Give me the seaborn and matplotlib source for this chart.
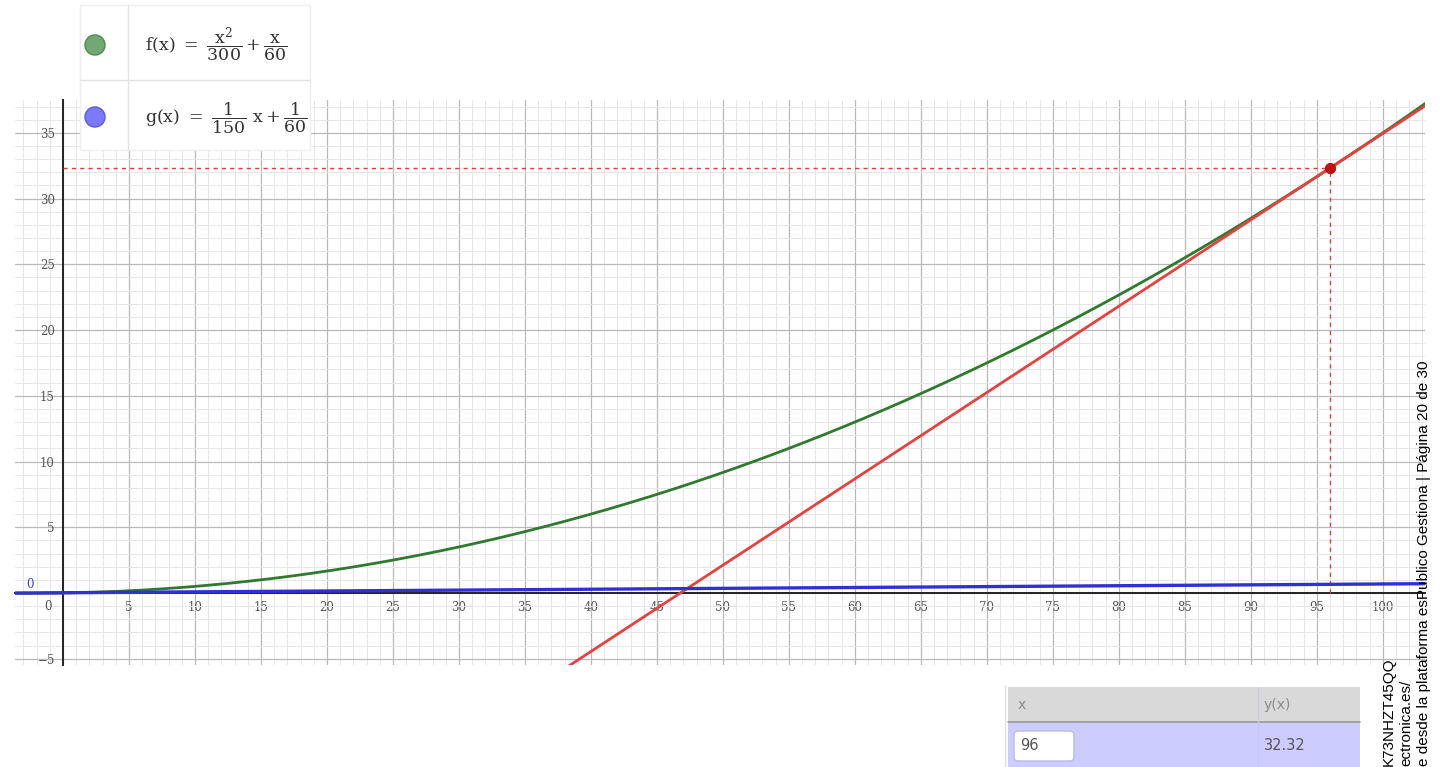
import numpy as np
import pandas as pd
import matplotlib
matplotlib.use("Agg")
import matplotlib.pyplot as plt
from matplotlib.patches import Rectangle, Circle, FancyBboxPatch
from matplotlib.ticker import MultipleLocator, FuncFormatter
import seaborn as sns

# ---- data ----
f_coef = [1 / 300, 1 / 60, 0.0]      # f(x) = x^2/300 + x/60
g_coef = [1 / 150, 1 / 60]           # g(x) = x/150 + 1/60  (= f'(x))
x0 = 96                              # point shown in the table
x_samples = np.linspace(-3.7, 103.3, 400)
table_x = "96"
table_y = "32.32"
side_lines = ["K73NHZT45QQ", "ectronica.es/",
              "e desde la plataforma esPublico Gestiona | Página 20 de 30"]

y0 = np.polyval(f_coef, x0)
slope = np.polyval(g_coef, x0)

df = pd.DataFrame({
    "x": x_samples,
    "f": np.polyval(f_coef, x_samples),
    "g": np.polyval(g_coef, x_samples),
    "t": y0 + slope * (x_samples - x0),
})

sns.set_theme(style="white")
plt.rcParams["mathtext.fontset"] = "dejavuserif"

W, H = 1442, 767
fig = plt.figure(figsize=(W / 100, H / 100), dpi=100)
ax = fig.add_axes([15 / W, 1 - 665 / H, 1410 / W, 565 / H])

ax.set_xlim(-3.64, 103.2)
ax.set_ylim(-5.48, 37.5)

# grid
ax.xaxis.set_major_locator(MultipleLocator(5))
ax.yaxis.set_major_locator(MultipleLocator(5))
ax.xaxis.set_minor_locator(MultipleLocator(1))
ax.yaxis.set_minor_locator(MultipleLocator(1))
ax.grid(which="minor", color="#e6e6e6", lw=0.7, zorder=0)
ax.grid(which="major", color="#b9b9b9", lw=0.9, zorder=0)
ax.set_axisbelow(True)

# axes through the origin
for s in ["top", "right"]:
    ax.spines[s].set_visible(False)
ax.spines["left"].set_position(("data", 0))
ax.spines["bottom"].set_position(("data", 0))
ax.spines["left"].set_color("#222222")
ax.spines["bottom"].set_color("#222222")
ax.spines["left"].set_linewidth(1.4)
ax.spines["bottom"].set_linewidth(1.4)

fmt = FuncFormatter(lambda v, p: "" if abs(v) < 1e-9 else f"{v:g}".replace("-", "\u2212"))
ax.xaxis.set_major_formatter(fmt)
ax.yaxis.set_major_formatter(fmt)
ax.tick_params(which="major", direction="inout", length=6, width=0.9, color="#444444",
               labelsize=8.5, labelcolor="#555555", pad=3)
ax.tick_params(which="minor", length=0)
for lab in ax.get_xticklabels() + ax.get_yticklabels():
    lab.set_family("DejaVu Serif")
ax.text(-1.15, -0.55, "0", ha="center", va="top", fontsize=8.5, color="#555555",
        family="DejaVu Serif")
ax.text(-2.5, 0.15, "0", ha="center", va="bottom", fontsize=8.5, color="#4040c0",
        family="DejaVu Serif")

# curves
sns.lineplot(data=df, x="x", y="f", ax=ax, color="#2f7a2f", lw=2.0, zorder=3)
sns.lineplot(data=df, x="x", y="t", ax=ax, color="#e4423f", lw=2.0, zorder=4)
sns.lineplot(data=df, x="x", y="g", ax=ax, color="#3030d4", lw=2.4, zorder=5)

# guide lines and point
ax.plot([0, x0], [y0, y0], color="#d84040", lw=1.0, dashes=(3, 3), zorder=4)
ax.plot([x0, x0], [0, y0], color="#d84040", lw=1.0, dashes=(3, 3), zorder=4)
ax.scatter([x0], [y0], s=55, color="#c41010", zorder=6, edgecolor="#991010", lw=0.6)

ax.set_xlabel("")
ax.set_ylabel("")

# ---- overlay in pixel coordinates: legend box, table, side text ----
ov = fig.add_axes([0, 0, 1, 1], zorder=10)
ov.set_xlim(0, W)
ov.set_ylim(H, 0)
ov.axis("off")
ov.patch.set_alpha(0)

ov.add_patch(Rectangle((80, 5), 230, 145, facecolor="white", edgecolor="#eeeeee", lw=1))
ov.plot([128, 128], [5, 150], color="#e2e2e2", lw=1)
ov.plot([80, 310], [80, 80], color="#e2e2e2", lw=1)
ov.add_patch(Circle((95, 45), 10, facecolor="#72a872", edgecolor="#4f8a4f", lw=1))
ov.add_patch(Circle((95, 117), 10, facecolor="#7a7aff", edgecolor="#5a5ae0", lw=1))
ov.text(145, 45, r"$\mathrm{f(x)}\ =\ \dfrac{\mathrm{x}^2}{300}+\dfrac{\mathrm{x}}{60}$",
        ha="left", va="center", fontsize=12.5, color="#333333")
ov.text(145, 118, r"$\mathrm{g(x)}\ =\ \dfrac{1}{150}\ \mathrm{x}+\dfrac{1}{60}$",
        ha="left", va="center", fontsize=12.5, color="#333333")

# table
ov.plot([1005, 1005], [685, 767], color="#e0e0e0", lw=1)
ov.add_patch(Rectangle((1008, 687), 352, 35, facecolor="#d9d9d9", edgecolor="none"))
ov.add_patch(Rectangle((1008, 722), 352, 45, facecolor="#ccccff", edgecolor="none"))
ov.plot([1008, 1360], [722, 722], color="#9a9a9a", lw=1.2)
ov.plot([1258, 1258], [687, 767], color="#c8c8e8", lw=0.8)
ov.add_patch(FancyBboxPatch((1014, 731), 60, 30, boxstyle="round,pad=0,rounding_size=4",
                            facecolor="white", edgecolor="#b8b8e8", lw=1))
ov.text(1018, 705, "x", ha="left", va="center", fontsize=10, color="#8a8a8a",
        family="DejaVu Sans")
ov.text(1264, 705, "y(x)", ha="left", va="center", fontsize=10, color="#8a8a8a",
        family="DejaVu Sans")
ov.text(1020, 746, table_x, ha="left", va="center", fontsize=10.5, color="#555555",
        family="DejaVu Sans")
ov.text(1264, 746, table_y, ha="left", va="center", fontsize=10.5, color="#555555",
        family="DejaVu Sans")

# rotated side text, ending at the bottom edge
for xpos, s in zip([1389, 1406, 1424], side_lines):
    ov.text(xpos, 766, s, rotation=90, ha="center", va="bottom", fontsize=11,
            color="black", family="Liberation Sans")

fig.savefig("out.png", dpi=100)
